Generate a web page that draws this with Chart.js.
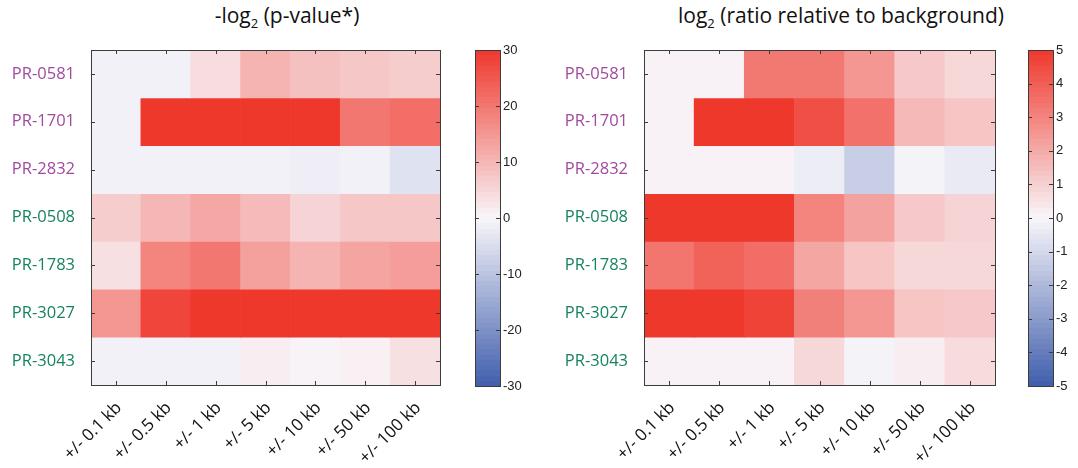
<!DOCTYPE html>
<html>
<head>
<meta charset="utf-8">
<script src="https://cdn.jsdelivr.net/npm/chart.js@4.4.1/dist/chart.umd.min.js"></script>
<style>
  body { margin: 0; background: #fff; width: 1078px; height: 468px; position: relative; overflow: hidden; font-family: 'Open Sans', sans-serif; }
  canvas { position: absolute; top: 0; }
  .title { position: absolute; top: 1px; font-size: 21px; color: #111; white-space: nowrap; transform: translateX(-50%); }
  .title sub { font-size: 13px; }
</style>
</head>
<body>
<div class="title" style="left:287px">-log<sub>2</sub> (p-value*)</div>
<div class="title" style="left:841px">log<sub>2</sub> (ratio relative to background)</div>
<canvas id="pval" width="460" height="468" style="left:0"></canvas>
<canvas id="pvalBar" width="60" height="468" style="left:470px"></canvas>
<canvas id="ratio" width="480" height="468" style="left:530px"></canvas>
<canvas id="ratioBar" width="58" height="468" style="left:1020px"></canvas>
<script>
const bins = ['+/- 0.1 kb', '+/- 0.5 kb', '+/- 1 kb', '+/- 5 kb', '+/- 10 kb', '+/- 50 kb', '+/- 100 kb'];
const rows = ['PR-0581', 'PR-1701', 'PR-2832', 'PR-0508', 'PR-1783', 'PR-3027', 'PR-3043'];
const rowColors = ['#a04a9e', '#a04a9e', '#a04a9e', '#17845c', '#17845c', '#17845c', '#17845c'];

// -log2(p-value*), one array per row
const pvalScores = [
  [-1, -1, 4, 10.5, 8.5, 7.5, 6.5],
  [-1, 30, 30, 30, 30, 20, 21.5],
  [-1, -1, -1, -1, -1.5, -1, -4],
  [6.5, 10, 12.5, 9.5, 5.5, 7.5, 7.5],
  [3.5, 18, 20, 13.5, 10.5, 13, 14],
  [15, 28, 30, 30, 30, 30, 30],
  [-1, -1, -1, 1.5, 0.5, 1, 3.5]
];
const pvalTicks = [-30, -20, -10, 0, 10, 20, 30];

// log2(ratio relative to background), one array per row
const ratioScores = [
  [0.1, 0.1, 3.3, 3.3, 2.5, 1.2, 0.8],
  [0.1, 5, 5, 4.4, 3.5, 1.6, 1.3],
  [0.1, 0.1, 0.1, -0.3, -1.3, -0.1, -0.4],
  [5, 5, 5, 3.0, 2.2, 1.2, 0.9],
  [3.4, 3.9, 3.6, 2.1, 1.3, 0.8, 0.8],
  [5, 5, 4.7, 3.1, 2.5, 1.3, 1.2],
  [0.1, 0.1, 0.1, 0.8, -0.1, 0.2, 0.7]
];
const ratioTicks = [-5, -4, -3, -2, -1, 0, 1, 2, 3, 4, 5];

const blueEnd = [64, 94, 172];
const whiteMid = [248, 246, 250];
const redEnd = [239, 56, 44];

function colorFor(v, maxAbs) {
  const t = Math.max(-1, Math.min(1, v / maxAbs));
  const end = t < 0 ? blueEnd : redEnd;
  const k = Math.abs(t);
  const c = whiteMid.map((w, i) => Math.round(w + (end[i] - w) * k));
  return `rgb(${c[0]},${c[1]},${c[2]})`;
}

// box + small inward ticks, matlab style
const frameTicks = {
  id: 'frameTicks',
  afterDraw(chart) {
    const {ctx, chartArea: a, scales} = chart;
    const len = 4;
    ctx.save();
    ctx.strokeStyle = '#3c3c3c';
    ctx.lineWidth = 1;
    ctx.beginPath();
    if (scales.x.options.display) {
      scales.x.ticks.forEach((t, i) => {
        const x = Math.round(scales.x.getPixelForTick(i)) + 0.5;
        ctx.moveTo(x, a.top); ctx.lineTo(x, a.top + len);
        ctx.moveTo(x, a.bottom); ctx.lineTo(x, a.bottom - len);
      });
    }
    scales.y.ticks.forEach((t, i) => {
      const y = Math.round(scales.y.getPixelForTick(i)) + 0.5;
      ctx.moveTo(a.left, y); ctx.lineTo(a.left + len, y);
      ctx.moveTo(a.right, y); ctx.lineTo(a.right - len, y);
    });
    ctx.stroke();
    ctx.strokeRect(Math.round(a.left) + 0.5, Math.round(a.top) + 0.5, Math.round(a.right - a.left), Math.round(a.bottom - a.top));
    ctx.restore();
  }
};

function drawHeatmap(id, values, maxAbs, yWidth, padRight) {
  return new Chart(document.getElementById(id), {
    type: 'bar',
    data: {
      labels: bins,
      datasets: rows.map((name, r) => ({
        label: name,
        data: bins.map(() => [r, r + 1]),
        backgroundColor: bins.map((b, c) => colorFor(values[r][c], maxAbs)),
        borderWidth: 0,
        barPercentage: 1,
        categoryPercentage: 1,
        grouped: false
      }))
    },
    options: {
      responsive: false,
      animation: false,
      layout: {padding: {top: 50, right: padRight, left: 0, bottom: 0}},
      plugins: {legend: {display: false}, tooltip: {enabled: false}},
      scales: {
        x: {
          grid: {display: false, drawTicks: false},
          border: {display: false},
          ticks: {minRotation: 45, maxRotation: 45, padding: 13, labelOffset: 3, color: '#111', font: {family: 'Open Sans', size: 17}},
          afterFit: (s) => { s.height = 83; }
        },
        y: {
          min: 0,
          max: rows.length,
          reverse: true,
          grid: {display: false, drawTicks: false},
          border: {display: false},
          afterBuildTicks: (s) => { s.ticks = rows.map((name, i) => ({value: i + 0.5})); },
          ticks: {
            callback: (v, i) => rows[i],
            color: (c) => rowColors[c.index],
            padding: 16,
            font: {family: 'Open Sans', size: 16.5}
          },
          afterFit: (s) => { s.width = yWidth; }
        }
      }
    },
    plugins: [frameTicks]
  });
}

function drawColorbar(id, maxAbs, tickValues, padLeft, yWidth) {
  return new Chart(document.getElementById(id), {
    type: 'bar',
    data: {
      labels: [''],
      datasets: [{
        data: [[-maxAbs, maxAbs]],
        borderWidth: 0,
        barPercentage: 1,
        categoryPercentage: 1,
        backgroundColor: (c) => {
          const a = c.chart.chartArea;
          if (!a) return '#fff';
          const g = c.chart.ctx.createLinearGradient(0, a.bottom, 0, a.top);
          const steps = 64;
          for (let i = 0; i < steps; i++) {
            const col = colorFor(-maxAbs + (i + 0.5) * 2 * maxAbs / steps, maxAbs);
            g.addColorStop(i / steps, col);
            g.addColorStop((i + 1) / steps, col);
          }
          return g;
        }
      }]
    },
    options: {
      responsive: false,
      animation: false,
      layout: {padding: {top: 50, left: padLeft, right: 0, bottom: 82}},
      plugins: {legend: {display: false}, tooltip: {enabled: false}},
      scales: {
        x: {display: false},
        y: {
          position: 'right',
          min: -maxAbs,
          max: maxAbs,
          grid: {display: false, drawTicks: false},
          border: {display: false},
          afterBuildTicks: (s) => { s.ticks = tickValues.map(v => ({value: v})); },
          ticks: {padding: 3, color: '#222', font: {family: 'Liberation Sans', size: 13}},
          afterFit: (s) => { s.width = yWidth; }
        }
      }
    },
    plugins: [frameTicks]
  });
}

drawHeatmap('pval', pvalScores, 30, 91, 20);
drawColorbar('pvalBar', 30, pvalTicks, 5, 30);
drawHeatmap('ratio', ratioScores, 5, 114, 15);
drawColorbar('ratioBar', 5, ratioTicks, 8, 25);
</script>
</body>
</html>
